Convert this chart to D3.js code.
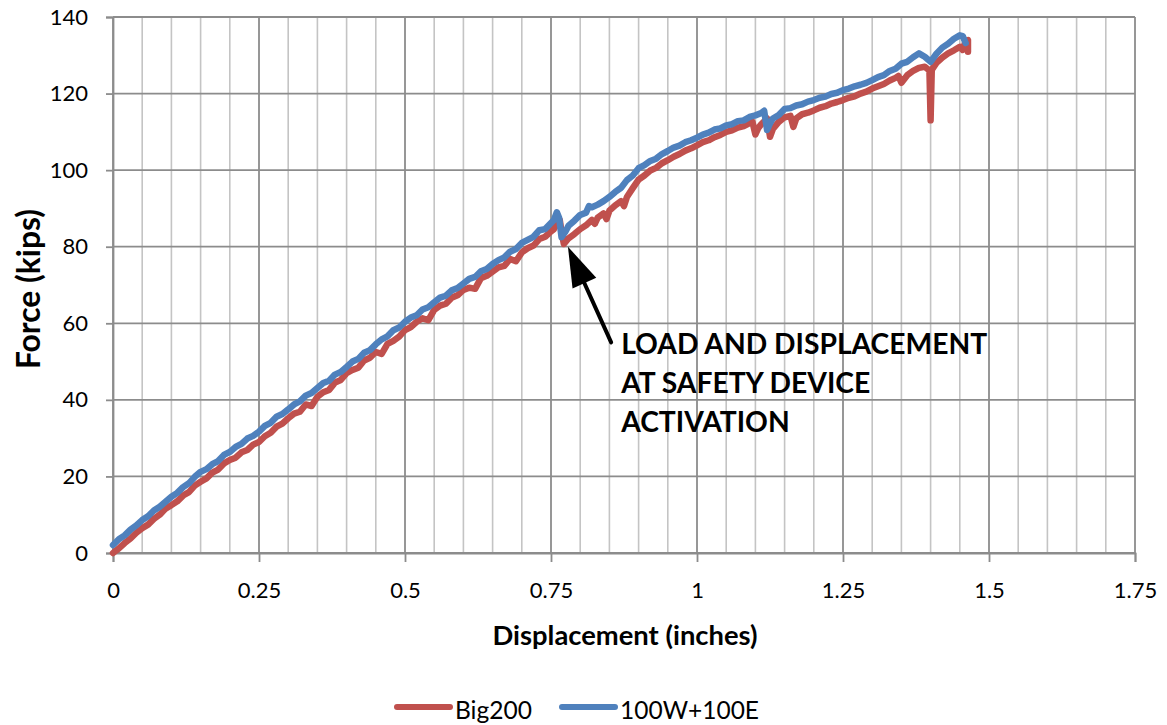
<!DOCTYPE html>
<html>
<head>
<meta charset="utf-8">
<script src="https://cdn.jsdelivr.net/npm/d3@7"></script>
<style>
  html, body { margin: 0; padding: 0; background: #fff; }
  svg { display: block; font-family: Lato, "Open Sans", sans-serif; }
</style>
</head>
<body>
<svg id="chart" width="1167" height="725"></svg>
<script>
// Axis ticks
const xTicks = [0, 0.25, 0.5, 0.75, 1, 1.25, 1.5, 1.75];
const xTickLabels = ["0", "0.25", "0.5", "0.75", "1", "1.25", "1.5", "1.75"];
const xMinorStep = 0.05;
const yTicks = [0, 20, 40, 60, 80, 100, 120, 140];

// Series: [displacement (in), force (kips)]
const big200 = [
  [0.00,0.0],[0.01,1.2],[0.02,2.6],[0.03,3.8],[0.04,5.3],[0.05,6.5],[0.06,7.4],[0.07,8.9],[0.08,10.0],[0.09,11.6],
  [0.10,12.5],[0.11,13.5],[0.12,15.0],[0.13,15.9],[0.14,17.6],[0.15,18.6],[0.16,19.5],[0.17,21.0],[0.18,21.8],[0.19,23.4],
  [0.20,24.3],[0.21,24.9],[0.22,26.3],[0.23,26.9],[0.24,28.3],[0.25,29.0],[0.26,30.5],[0.27,31.4],[0.28,33.0],[0.29,33.8],
  [0.30,35.2],[0.31,36.4],[0.32,36.9],[0.33,38.8],[0.34,38.4],[0.35,40.8],[0.36,42.0],[0.37,42.6],[0.38,44.5],[0.39,45.2],
  [0.40,47.0],[0.41,47.8],[0.42,48.4],[0.43,50.3],[0.44,51.0],[0.45,52.5],[0.46,52.0],[0.47,54.6],[0.48,55.4],[0.49,56.5],
  [0.50,58.2],[0.51,59.0],[0.52,60.4],[0.53,61.3],[0.54,60.8],[0.55,63.5],[0.56,64.6],[0.57,65.1],[0.58,66.7],[0.59,67.3],
  [0.60,68.7],[0.61,69.3],[0.62,69.0],[0.63,71.8],[0.64,72.4],[0.65,73.5],[0.66,74.6],[0.67,75.0],[0.68,76.8],[0.69,76.2],
  [0.70,78.5],[0.71,79.6],[0.72,80.3],[0.73,82.0],[0.74,82.6],[0.75,84.0],[0.755,84.6],[0.76,86.5],[0.765,87.0],[0.768,84.0],
  [0.772,80.7],[0.78,82.2],[0.79,83.3],[0.80,84.6],[0.81,85.6],[0.82,87.0],[0.825,86.0],[0.83,87.6],[0.84,88.7],[0.845,87.2],
  [0.85,89.4],[0.86,90.8],[0.87,91.9],[0.875,90.6],[0.88,93.0],[0.89,95.3],[0.90,97.5],[0.91,98.6],[0.92,99.9],[0.93,100.6],
  [0.94,101.8],[0.95,102.6],[0.96,103.5],[0.97,104.2],[0.98,105.1],[0.99,105.7],[1.00,106.5],[1.01,107.3],[1.02,107.8],[1.03,108.6],
  [1.04,109.2],[1.05,110.0],[1.06,110.4],[1.07,111.1],[1.08,111.5],[1.09,112.3],[1.095,112.6],[1.10,109.3],[1.105,111.0],[1.11,112.0],
  [1.12,113.5],[1.125,108.7],[1.13,110.8],[1.14,112.6],[1.15,113.8],[1.16,114.2],[1.165,111.3],[1.17,113.5],[1.18,114.6],[1.19,115.0],
  [1.20,115.6],[1.21,116.3],[1.22,116.7],[1.23,117.4],[1.24,117.8],[1.25,118.3],[1.26,118.9],[1.27,119.3],[1.28,120.0],[1.29,120.5],
  [1.30,121.3],[1.31,121.9],[1.32,122.5],[1.33,123.4],[1.34,124.1],[1.345,124.6],[1.35,122.8],[1.36,124.8],[1.37,125.9],[1.38,126.7],
  [1.39,127.0],[1.398,126.0],[1.40,113.0],[1.402,126.2],[1.41,128.0],[1.42,129.4],[1.43,130.5],[1.44,131.3],[1.45,132.2],[1.455,131.4],
  [1.46,133.8],[1.464,134.0],[1.464,130.9]
];

const w100e100 = [
  [0.00,2.1],[0.01,3.6],[0.02,4.6],[0.03,6.1],[0.04,7.2],[0.05,8.6],[0.06,9.6],[0.07,11.1],[0.08,12.1],[0.09,13.4],
  [0.10,14.7],[0.11,15.7],[0.12,17.2],[0.13,18.2],[0.14,19.9],[0.15,21.2],[0.16,21.9],[0.17,23.2],[0.18,24.0],[0.19,25.6],
  [0.20,26.4],[0.21,27.7],[0.22,28.5],[0.23,29.9],[0.24,30.6],[0.25,31.7],[0.26,33.2],[0.27,34.0],[0.28,35.6],[0.29,36.3],
  [0.30,37.5],[0.31,38.8],[0.32,39.6],[0.33,41.1],[0.34,41.8],[0.35,43.1],[0.36,44.4],[0.37,45.0],[0.38,46.6],[0.39,47.3],
  [0.40,48.6],[0.41,50.0],[0.42,50.7],[0.43,52.3],[0.44,53.0],[0.45,54.5],[0.46,55.8],[0.47,56.6],[0.48,58.2],[0.49,58.9],
  [0.50,60.4],[0.51,61.5],[0.52,62.1],[0.53,63.6],[0.54,64.2],[0.55,65.5],[0.56,66.7],[0.57,67.2],[0.58,68.6],[0.59,69.2],
  [0.60,70.4],[0.61,71.6],[0.62,72.1],[0.63,73.6],[0.64,74.2],[0.65,75.5],[0.66,76.5],[0.67,77.2],[0.68,78.7],[0.69,79.4],
  [0.70,81.0],[0.71,81.8],[0.72,82.6],[0.73,84.3],[0.74,84.6],[0.75,86.2],[0.755,87.0],[0.76,89.0],[0.764,87.5],[0.768,82.5],
  [0.775,84.0],[0.78,85.5],[0.79,86.8],[0.80,88.3],[0.81,88.9],[0.815,90.6],[0.82,90.3],[0.83,91.0],[0.84,91.9],[0.85,93.0],
  [0.86,94.3],[0.87,95.4],[0.88,97.4],[0.89,98.6],[0.90,100.5],[0.91,101.3],[0.92,102.4],[0.93,103.0],[0.94,104.2],[0.95,105.0],
  [0.96,105.9],[0.97,106.4],[0.98,107.3],[0.99,107.8],[1.00,108.5],[1.01,109.3],[1.02,109.8],[1.03,110.6],[1.04,110.9],[1.05,111.7],
  [1.06,112.0],[1.07,112.8],[1.08,113.0],[1.09,113.9],[1.10,114.3],[1.11,114.9],[1.115,115.5],[1.12,110.5],[1.125,112.2],[1.13,113.5],
  [1.14,114.4],[1.15,116.0],[1.16,116.2],[1.17,116.9],[1.18,117.2],[1.19,117.9],[1.20,118.3],[1.21,118.9],[1.22,119.2],[1.23,119.9],
  [1.24,120.2],[1.25,120.9],[1.26,121.3],[1.27,121.9],[1.28,122.3],[1.29,122.8],[1.30,123.5],[1.31,124.3],[1.32,124.8],[1.33,125.9],
  [1.34,126.5],[1.35,127.8],[1.36,128.3],[1.37,129.5],[1.38,130.5],[1.39,129.6],[1.40,128.3],[1.41,130.4],[1.42,132.0],[1.43,133.0],
  [1.44,134.3],[1.45,135.2],[1.455,135.0],[1.46,133.2]
];

const seriesNames = ["Big200", "100W+100E"];
const seriesColors = ["#C0504D", "#4F81BD"];

// Annotation: arrow tip / tail in data units, and its text lines
const arrowTip = [0.779, 80.0];
const arrowTail = [0.853, 55.0];
const noteLines = ["LOAD AND DISPLACEMENT", "AT SAFETY DEVICE", "ACTIVATION"];

const svg = d3.select("#chart");
const margin = { top: 17, right: 32, bottom: 172, left: 113 };
const W = +svg.attr("width"), H = +svg.attr("height");
const iw = W - margin.left - margin.right, ih = H - margin.top - margin.bottom;

const x = d3.scaleLinear().domain([0, 1.75]).range([0, iw]);
const y = d3.scaleLinear().domain([0, 140]).range([ih, 0]);

// Scale a text element's font size so its rendered width equals `width`
function fitWidth(sel, width) {
  const node = sel.node();
  const fs = parseFloat(sel.attr("font-size"));
  const w = node.getComputedTextLength();
  if (w > 0) sel.attr("font-size", (fs * width / w).toFixed(2));
  return sel;
}

const g = svg.append("g").attr("transform", `translate(${margin.left},${margin.top})`);

// Minor vertical gridlines every 0.05 in
const minorX = d3.range(0, 1.75 + 1e-9, xMinorStep).filter(v => Math.abs(v / 0.25 - Math.round(v / 0.25)) > 1e-6);
g.append("g").selectAll("line").data(minorX).join("line")
  .attr("x1", d => x(d)).attr("x2", d => x(d)).attr("y1", 0).attr("y2", ih)
  .attr("stroke", "#c4c4c4").attr("stroke-width", 1.6);

// Major gridlines
g.append("g").selectAll("line").data(xTicks).join("line")
  .attr("x1", d => x(d)).attr("x2", d => x(d)).attr("y1", 0).attr("y2", ih)
  .attr("stroke", "#8c8c8c").attr("stroke-width", 1.8);
g.append("g").selectAll("line").data(yTicks).join("line")
  .attr("x1", 0).attr("x2", iw).attr("y1", d => y(d)).attr("y2", d => y(d))
  .attr("stroke", "#8c8c8c").attr("stroke-width", 1.8);

// Axes
const xAxis = g.append("g").attr("transform", `translate(0,${ih})`)
  .call(d3.axisBottom(x).tickValues(xTicks).tickFormat((d, i) => xTickLabels[i]).tickSize(9).tickPadding(20));
const yAxis = g.append("g")
  .call(d3.axisLeft(y).tickValues(yTicks).tickSize(7).tickPadding(18));
[xAxis, yAxis].forEach(a => {
  a.select(".domain").attr("stroke", "#8c8c8c").attr("stroke-width", 1.8);
  a.selectAll(".tick line").attr("stroke", "#8c8c8c").attr("stroke-width", 1.8);
  a.selectAll(".tick text").attr("fill", "#000").style("font-size", "22px").style("font-family", "Lato");
});

// Series lines
const line = d3.line().x(d => x(d[0])).y(d => y(d[1]));
[big200, w100e100].forEach((data, i) => {
  g.append("path").datum(data)
    .attr("fill", "none").attr("stroke", seriesColors[i]).attr("stroke-width", 6.5)
    .attr("stroke-linejoin", "round").attr("stroke-linecap", "round")
    .attr("d", line);
});

// Annotation arrow
const tipPx = [x(arrowTip[0]), y(arrowTip[1])];
const tailPx = [x(arrowTail[0]), y(arrowTail[1])];
const ang = Math.atan2(tipPx[1] - tailPx[1], tipPx[0] - tailPx[0]);
const headLen = 40, headHalf = 13;
const baseC = [tipPx[0] - headLen * Math.cos(ang), tipPx[1] - headLen * Math.sin(ang)];
g.append("line")
  .attr("x1", tailPx[0]).attr("y1", tailPx[1])
  .attr("x2", baseC[0] + 4 * Math.cos(ang)).attr("y2", baseC[1] + 4 * Math.sin(ang))
  .attr("stroke", "#000").attr("stroke-width", 4).attr("stroke-linecap", "round");
g.append("path")
  .attr("d", `M${tipPx[0]},${tipPx[1]}`
    + `L${baseC[0] + headHalf * Math.sin(ang)},${baseC[1] - headHalf * Math.cos(ang)}`
    + `L${baseC[0] - headHalf * Math.sin(ang)},${baseC[1] + headHalf * Math.cos(ang)}Z`)
  .attr("fill", "#000");

const noteX = tailPx[0] + 10;
noteLines.forEach((t, i) => {
  const tx = g.append("text")
    .attr("x", noteX).attr("y", tailPx[1] + 12 + i * 39)
    .attr("font-weight", "bold").attr("font-size", 28).attr("fill", "#000")
    .text(t);
  if (i === 0) fitWidth(tx, 366);
});
// Keep all annotation lines at the first line's size
const noteSize = g.selectAll("text").filter(function () { return noteLines.includes(this.textContent); })
  .nodes()[0].getAttribute("font-size");
g.selectAll("text").filter(function () { return noteLines.includes(this.textContent); })
  .attr("font-size", noteSize);

// Axis titles
fitWidth(svg.append("text")
  .attr("x", margin.left + iw / 2 + 1).attr("y", 645)
  .attr("text-anchor", "middle").attr("font-weight", "bold").attr("font-size", 23)
  .text("Displacement (inches)"), 265);
fitWidth(svg.append("text")
  .attr("transform", `translate(40,${margin.top + ih / 2 + 4}) rotate(-90)`)
  .attr("text-anchor", "middle").attr("font-weight", "bold").attr("font-size", 23)
  .text("Force (kips)"), 160);

// Legend
const legend = svg.append("g").attr("transform", "translate(397,707)");
const legendX = [0, 165];
const legendW = [77, 139];
seriesNames.forEach((name, i) => {
  const lg = legend.append("g").attr("transform", `translate(${legendX[i]},0)`);
  lg.append("line").attr("x1", 0).attr("x2", 53).attr("y1", 0).attr("y2", 0)
    .attr("stroke", seriesColors[i]).attr("stroke-width", 6).attr("stroke-linecap", "round");
  fitWidth(lg.append("text").attr("x", 58).attr("y", 12).attr("font-size", 24).attr("fill", "#000").text(name), legendW[i]);
});
</script>
</body>
</html>
